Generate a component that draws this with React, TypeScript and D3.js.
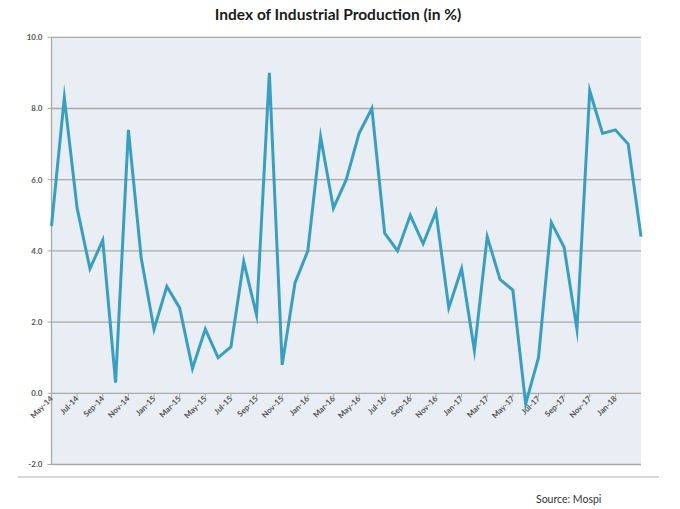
import React from "react";
import * as d3 from "d3";

const months: string[] = [
  "May-14","Jun-14","Jul-14","Aug-14","Sep-14","Oct-14","Nov-14","Dec-14",
  "Jan-15","Feb-15","Mar-15","Apr-15","May-15","Jun-15","Jul-15","Aug-15","Sep-15","Oct-15","Nov-15","Dec-15",
  "Jan-16","Feb-16","Mar-16","Apr-16","May-16","Jun-16","Jul-16","Aug-16","Sep-16","Oct-16","Nov-16","Dec-16",
  "Jan-17","Feb-17","Mar-17","Apr-17","May-17","Jun-17","Jul-17","Aug-17","Sep-17","Oct-17","Nov-17","Dec-17",
  "Jan-18","Feb-18","Mar-18",
];

const iipValues: number[] = [
  4.7, 8.3, 5.2, 3.5, 4.3, 0.3, 7.4, 3.8,
  1.8, 3.0, 2.4, 0.7, 1.8, 1.0, 1.3, 3.7, 2.2, 9.0, 0.8, 3.1,
  4.0, 7.2, 5.2, 6.0, 7.3, 8.0, 4.5, 4.0, 5.0, 4.2, 5.1, 2.4,
  3.5, 1.2, 4.4, 3.2, 2.9, -0.3, 1.0, 4.8, 4.1, 1.8, 8.5, 7.3,
  7.4, 7.0, 4.4,
];

const yTicks: number[] = [-2, 0, 2, 4, 6, 8, 10];

const W = 680;
const H = 509;
const left = 51.5;
const right = 641;
const top = 37.3;
const bottom = 464.5;

export default function App() {
  const x = d3.scaleLinear().domain([0, months.length - 1]).range([left, right]);
  const y = d3.scaleLinear().domain([-2, 10]).range([bottom, top]);
  const line = d3
    .line<number>()
    .x((_, i) => x(i))
    .y((d) => y(d));
  const labelIdx = months.map((_, i) => i).filter((i) => i % 2 === 0 && i < months.length - 1);
  const font = "Lato, 'Open Sans', 'DejaVu Sans', sans-serif";

  return (
    <svg
      width={W}
      height={H}
      style={{ position: "absolute", left: 0, top: 0, background: "#fff" }}
      fontFamily={font}
    >
      <text x={338} y={20} textAnchor="middle" fontSize={15.5} fontWeight={700} fill="#1a1a1a">
        Index of Industrial Production (in %)
      </text>
      <rect x={left} y={top} width={right - left} height={bottom - top} fill="#e9eef4" />
      {yTicks.map((t) => (
        <g key={t}>
          <line
            x1={left}
            x2={right}
            y1={y(t)}
            y2={y(t)}
            stroke="#a9a9a9"
            strokeWidth={1.3}
          />
          <line x1={left - 4} x2={left} y1={y(t)} y2={y(t)} stroke="#a8a8a8" strokeWidth={1} />
          <text
            x={left - 9}
            y={y(t)}
            dy="0.35em"
            textAnchor="end"
            fontSize={8}
            fontWeight={700}
            fill="#555"
          >
            {t.toFixed(1)}
          </text>
        </g>
      ))}
      <line x1={left} x2={left} y1={top} y2={bottom} stroke="#a8a8a8" strokeWidth={1.3} />
      {labelIdx.map((i) => (
        <g key={months[i]}>
          <line x1={x(i)} x2={x(i)} y1={y(0)} y2={y(0) + 4} stroke="#a8a8a8" strokeWidth={1} />
          <text
            transform={`translate(${x(i) + 2},${y(0) + 6}) rotate(-45)`}
            textAnchor="end"
            fontSize={8}
            fontWeight={700}
            fill="#555"
          >
            {months[i]}
          </text>
        </g>
      ))}
      <path
        d={line(iipValues) || ""}
        fill="none"
        stroke="#3a9fbf"
        strokeWidth={3}
        strokeLinejoin="miter"
        strokeMiterlimit={10}
      />
      <line x1={18} x2={659} y1={477} y2={477} stroke="#c8c8c8" strokeWidth={1.3} />
      <text x={536} y={503} fontSize={10.5} fill="#333">
        Source: Mospi
      </text>
    </svg>
  );
}
